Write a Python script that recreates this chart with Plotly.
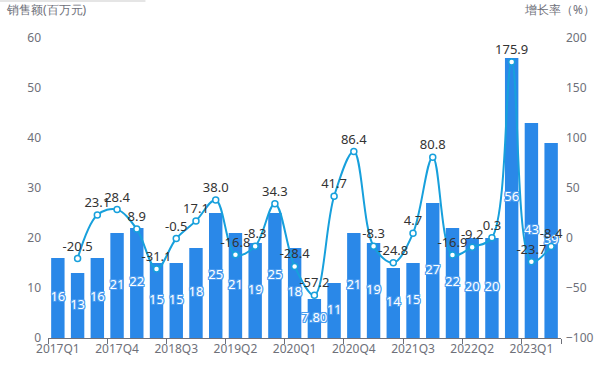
import plotly.graph_objects as go

quarters = ["2017Q1","2017Q2","2017Q3","2017Q4","2018Q1","2018Q2","2018Q3","2018Q4",
            "2019Q1","2019Q2","2019Q3","2019Q4","2020Q1","2020Q2","2020Q3","2020Q4",
            "2021Q1","2021Q2","2021Q3","2021Q4","2022Q1","2022Q2","2022Q3","2022Q4",
            "2023Q1","2023Q2"]
sales = [16,13,16,21,22,15,15,18,25,21,19,25,18,7.8,11,21,19,14,15,27,22,20,20,56,43,39]
growth = [None,-20.5,23.1,28.4,8.9,-31.1,-0.5,17.1,38.0,-16.8,-8.3,34.3,-28.4,-57.2,41.7,
          86.4,-8.3,-24.8,4.7,80.8,-16.9,-9.2,0.3,175.9,-23.7,-8.4]

x = list(range(len(quarters)))
sales_text = [f"{v:.2f}" if v < 10 else f"{v:.0f}" for v in sales]
growth_text = ["" if g is None else f"{g:.1f}" for g in growth]

BAR = "#2a88e8"
LINE = "#17a0dc"
GREY = "#6e7079"
FONT = "Noto Sans, Open Sans, sans-serif"
OUTLINE = "#4a9cf0"
shadow = ", ".join(f"{dx}px {dy}px 0 {OUTLINE}" for dx, dy in
                   [(-1, 0), (1, 0), (0, -1), (0, 1), (-1, -1), (1, 1), (-1, 1), (1, -1)])

fig = go.Figure()
fig.add_trace(go.Bar(
    x=x, y=sales, marker=dict(color=BAR, line=dict(width=0)), width=0.68,
    textposition="none", hoverinfo="skip", yaxis="y"))
# bar value labels, centred in each bar
fig.add_trace(go.Scatter(
    x=x, y=[v / 2 for v in sales], mode="text", text=sales_text, yaxis="y",
    textposition="middle center", cliponaxis=False, hoverinfo="skip",
    textfont=dict(color="white", size=13, family=FONT, shadow=shadow)))
fig.add_trace(go.Scatter(
    x=x, y=growth, mode="lines+markers+text", yaxis="y2",
    line=dict(color=LINE, width=2, shape="spline", smoothing=1.0),
    marker=dict(symbol="circle", size=6, color="white", line=dict(color=LINE, width=1.5)),
    text=growth_text, textposition="top center",
    textfont=dict(color="#333333", size=13, family=FONT),
    connectgaps=False, cliponaxis=False, hoverinfo="skip"))

tick_pos = [i - 0.5 for i in range(0, len(quarters), 3)] + [len(quarters) - 0.5]

fig.update_layout(
    width=606, height=369,
    margin=dict(l=48, r=45, t=38, b=29),
    paper_bgcolor="white", plot_bgcolor="white",
    showlegend=False,
    font=dict(family=FONT, size=12, color=GREY),
    xaxis=dict(range=[-0.5, len(quarters) - 0.5], tickmode="array",
               tickvals=x[::3], ticktext=quarters[::3], ticks="",
               showgrid=False, zeroline=False, showline=True, linecolor="#6e7079", linewidth=1,
               tickfont=dict(size=12, color=GREY),
               minor=dict(tickvals=tick_pos, ticks="outside", ticklen=5, tickcolor="#6e7079",
                          showgrid=False)),
    yaxis=dict(range=[0, 60], dtick=10, showgrid=False, zeroline=False, showline=False,
               ticks="", tickfont=dict(size=12, color=GREY), ticklabelstandoff=6,
               automargin=False),
    yaxis2=dict(range=[-100, 200], dtick=50, overlaying="y", side="right",
                showgrid=False, zeroline=False, showline=False, ticks="",
                tickfont=dict(size=12, color=GREY), ticklabelstandoff=4, automargin=False),
    annotations=[
        dict(text="销售额(百万元)", xref="paper", yref="paper", x=-0.085, y=1.06,
             xanchor="left", yanchor="bottom", showarrow=False,
             font=dict(size=12, color=GREY)),
        dict(text="增长率（%）", xref="paper", yref="paper", x=1.07, y=1.06,
             xanchor="right", yanchor="bottom", showarrow=False,
             font=dict(size=12, color=GREY)),
    ],
    shapes=[dict(type="line", xref="paper", yref="paper", x0=-0.094, x1=0.19,
                 y0=1.123, y1=1.123, line=dict(color="#dddddd", width=1.5))],
)

fig.write_html("out.html", config={"displayModeBar": False},
               post_script="document.body.style.margin='0px';document.body.style.padding='0px';")
